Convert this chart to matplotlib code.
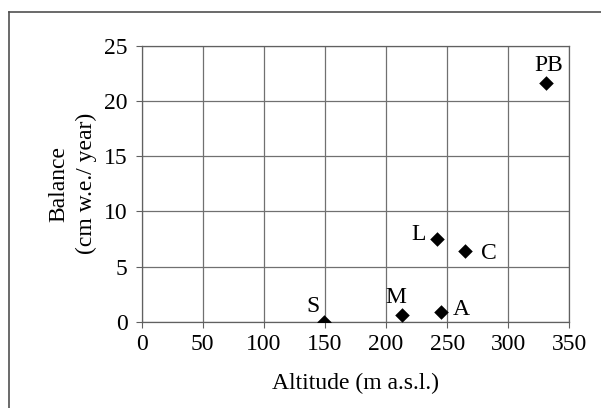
import matplotlib
matplotlib.use("Agg")
import matplotlib.pyplot as plt
from matplotlib.lines import Line2D

# Data
labels = ["S", "M", "A", "L", "C", "PB"]
altitude = [149, 213, 245, 242, 265, 331]
balance = [0.0, 0.6, 0.85, 7.5, 6.4, 21.6]
# label offsets (pixels) relative to marker
label_dx = [-11, -6, 20, -19, 23, 3]
label_dy = [15, 18, 3, 4, -2, 18]

x_ticks = [0, 50, 100, 150, 200, 250, 300, 350]
y_ticks = [0, 5, 10, 15, 20, 25]

plt.rcParams['font.family'] = ['Liberation Serif', 'DejaVu Serif']
fs = 17

fig = plt.figure(figsize=(6.01, 4.08), dpi=100)
ax = fig.add_axes([141.7/601, 1 - 321.7/408, (569.3-141.7)/601, (321.7-46)/408])

ax.scatter(altitude, balance, marker='D', s=55, color='black', zorder=3, linewidths=0)
for lab, x, y, dx, dy in zip(labels, altitude, balance, label_dx, label_dy):
    ax.annotate(lab, (x, y), xytext=(dx, dy), textcoords='offset pixels',
                ha='center', va='center', fontsize=fs, color='black')

ax.set_xlim(0, 350)
ax.set_ylim(0, 25)
ax.set_xticks(x_ticks)
ax.set_yticks(y_ticks)
ax.tick_params(labelsize=fs, length=4, width=0.8, color='#606060', direction='out')
ax.tick_params(axis='y', pad=6)
ax.tick_params(axis='x', pad=5)
ax.grid(True, color='#707070', linewidth=0.9)
ax.set_axisbelow(True)
for s in ax.spines.values():
    s.set_color('#606060')
    s.set_linewidth(0.9)

ax.set_xlabel("Altitude (m a.s.l.)", fontsize=fs, labelpad=13)
ax.set_ylabel("Balance\n(cm w.e./ year)", fontsize=fs, labelpad=5, linespacing=1.4)

# figure frame (top and left visible)
fig.add_artist(Line2D([9/601, 9/601], [0, 1 - 12/408], transform=fig.transFigure,
                      color='#505050', linewidth=1.2))
fig.add_artist(Line2D([9/601, 1], [1 - 12/408, 1 - 12/408], transform=fig.transFigure,
                      color='#505050', linewidth=1.2))

fig.savefig("out.png", dpi=100)
